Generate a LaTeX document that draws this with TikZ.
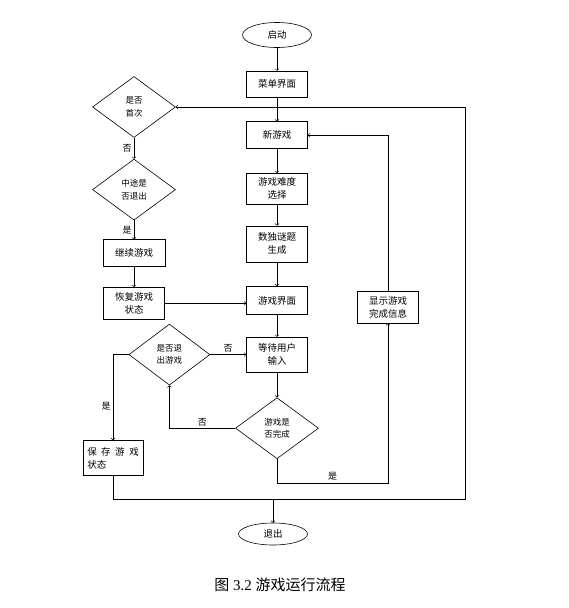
\documentclass[tikz,border=0pt]{standalone}
\usepackage{fontspec}
\setmainfont{Liberation Serif}
\newfontfamily\cjk{Noto Sans CJK SC}
\usetikzlibrary{positioning}
\usetikzlibrary{shapes.geometric}

\tikzset{
  box/.style = {draw, rectangle, minimum width=61pt, minimum height=27pt, inner sep=1pt, align=center, font=\cjk\fontsize{9.5}{13}\selectfont},
  decision/.style = {draw, diamond, aspect=1.4, minimum width=83pt, minimum height=61pt, inner sep=0pt, align=center, font=\cjk\fontsize{8.5}{12.5}\selectfont},
  term/.style = {draw, ellipse, minimum width=69pt, minimum height=25pt, inner sep=0pt, font=\cjk\fontsize{9.5}{12}\selectfont},
  arr/.style = {->, line width=0.6pt},
  lbl/.style = {font=\cjk\fontsize{9}{10}\selectfont, inner sep=2pt}
}

\begin{document}
\begin{tikzpicture}[x=1pt, y=-1pt, line width=0.6pt, node distance=24pt]
	\useasboundingbox (0,0) rectangle (568,608);
	% main column
	\node[term] (start) at (277,35) {启动};
	\node[box, below=23pt of start, minimum height=26pt] (menu) {菜单界面};
	\node[box, below=of menu] (newgame) {新游戏};
	\node[box, below=of newgame, minimum height=31pt] (level) {游戏难度\\选择};
	\node[box, below=21pt of level, minimum height=36pt] (puzzle) {数独谜题\\生成};
	\node[box, below=of puzzle, minimum height=28pt] (gameui) {游戏界面};
	\node[box, below=22pt of gameui, minimum height=35pt] (wait) {等待用户\\输入};
	\node[decision, below=25pt of wait] (done) {游戏是\\否完成};
	\node[term, minimum height=22pt] (exit) at (273,534) {退出};
	% left side
	\node[decision] (first) at (134,107) {是否\\首次};
	\node[decision, below=21pt of first] (quit) {中途是\\否退出};
	\node[box, below=19pt of quit, minimum width=62pt] (continue) {继续游戏};
	\node[box, below=20pt of continue, minimum height=32pt] (restore) {恢复游戏\\状态};
	\node[decision, minimum width=81pt, left=36pt of wait] (askquit) {是否退\\出游戏};
	\node[box, minimum width=60pt, minimum height=35pt, align=left] (save) at (113,458) {保\hspace{4.5pt}存\hspace{4.5pt}游\hspace{4.5pt}戏\\状态};
	% right side
	\node[box, minimum height=32pt] (showdone) at (388,307) {显示游戏\\完成信息};
	\node[font=\fontsize{15}{18}\selectfont] (caption) at (280,585) {{\cjk 图} 3.2 {\cjk 游戏运行流程}};
	\coordinate (yesturn) at ([yshift=-24pt]done.south);
	\coordinate (lowright) at (465,499);
	\coordinate (topright) at (465,107);
	\coordinate (joinexit) at (exit.north |- lowright);
	% connectors
	\draw[arr] (start) -- (menu);
	\draw[arr] (menu) -- (newgame);
	\draw[arr] (newgame) -- (level);
	\draw[arr] (level) -- (puzzle);
	\draw[arr] (puzzle) -- (gameui);
	\draw[arr] (gameui) -- (wait);
	\draw[arr] (wait) -- (done);
	\draw[arr] (first) -- node[lbl, left] {否} (quit);
	\draw[arr] (quit) -- node[lbl, left] {是} (continue);
	\draw[arr] (continue) -- (restore);
	\draw[arr] (restore.east) -- (restore.east -| gameui.west);
	\draw[arr] (askquit.east) -- node[lbl, above] {否} (wait.west);
	\draw[arr] (askquit.west) -| node[lbl, pos=0.8, left] {是} (save.north);
	\draw[arr] (done.west) -| node[lbl, pos=0.25, above] {否} (askquit.south);
	\draw[arr] (done.south) -- (yesturn) -| node[lbl, pos=0.25, above] {是} (showdone.south);
	\draw[arr] (showdone.north) |- (newgame.east);
	\draw[arr] (save.south) |- (lowright) -- (topright) -- (first.east);
	\draw[arr] (joinexit) -- (exit);
\end{tikzpicture}
\end{document}
